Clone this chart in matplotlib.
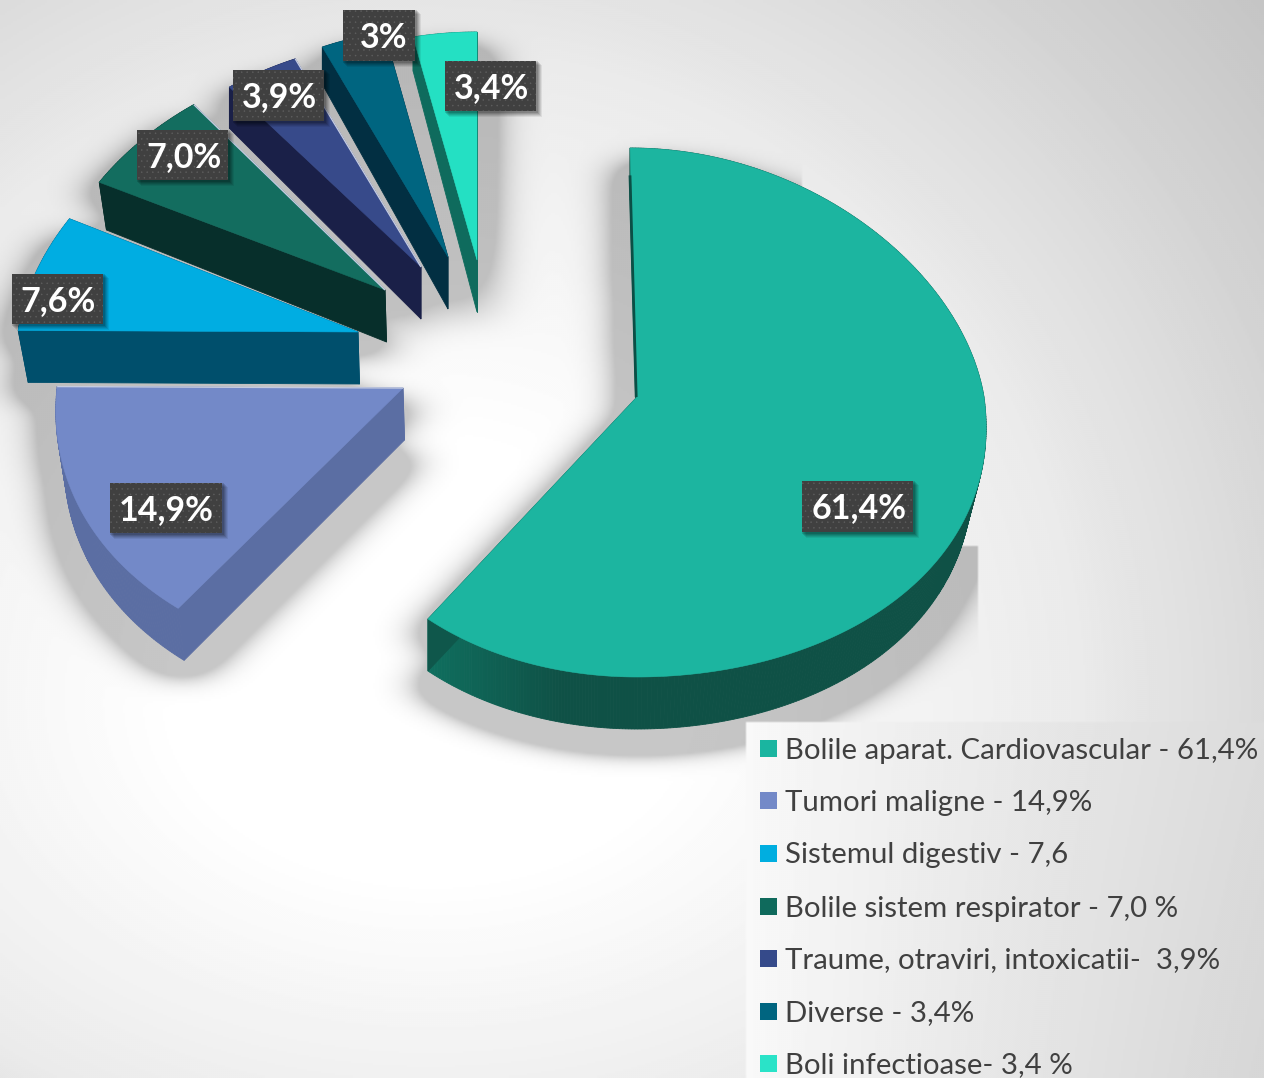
import numpy as np
import matplotlib
matplotlib.use("Agg")
import matplotlib.pyplot as plt
from matplotlib.patches import Polygon, Rectangle
from matplotlib.path import Path
from matplotlib.colors import to_rgb

# ---- data ----
values = [61.4, 14.9, 7.6, 7.0, 3.9, 3.4, 3.4]
pct_labels = ["61,4%", "14,9%", "7,6%", "7,0%", "3,9%", "3%", "3,4%"]
legend_labels = ["Bolile aparat. Cardiovascular - 61,4%", "Tumori maligne - 14,9%",
                 "Sistemul digestiv - 7,6", "Bolile sistem respirator - 7,0 %",
                 "Traume, otraviri, intoxicatii-  3,9%", "Diverse - 3,4%",
                 "Boli infectioase- 3,4 %"]
top_colors = ["#1cb5a0", "#7389c8", "#00ade2", "#136d5f", "#374a8a", "#006580", "#24e0c3"]
side_colors = ["#0f5146", "#5b6ea3", "#004f6c", "#072f2b", "#1a2048", "#022f42", "#0f6b5d"]
swatch_colors = ["#1ab5a0", "#7389c8", "#00aee0", "#0f6a5c", "#354a8a", "#006580", "#2ae3c8"]

# ---- layout (pixel space of the picture) ----
W, H = 1264, 1078
apex = [(637, 397), (403, 388), (358, 332), (385, 290), (421, 267), (448, 257), (477, 260)]
rx_right = [347, 336, 336, 336, 336, 336, 336]
rx_left = [315, 346, 340, 336, 336, 336, 336]
ry_up = [249, 235, 247, 235, 228, 230, 228]
ry_down = [280, 278, 278, 278, 278, 278, 278]
persp = [0.0004, 0.0003, 0.0004, 0.0004, 0.0004, 0.0004, 0.0004]
tilt = [0.028, 0, 0, 0, 0, 0, 0]
depth = 52
depth_far = [0, 0, 0.04, 0.04, 0.06, 0.07, 0.08]
shrink_left = [0.0, 0.02, 0.025, 0.02, 0.0, 0.0, 0.0]
shrink_right = [0.04, 0, 0, 0, 0, 0, 0]
highlight = [False, True, False, True, True, False, False]
boxes = [(802, 481, 913, 532), (110, 483, 222, 533), (12, 274, 103, 324), (137, 130, 228, 180),
         (233, 70, 324, 121), (343, 10, 415, 61), (445, 61, 536, 111)]
text_dx = [2, 0, 0, 1, 1, 5, 1]
legend_y = [748, 800, 853, 906, 958, 1011, 1063]
shadow_clip_x = 976
shadow_clip_upper = (800, 545)
plt.rcParams["font.family"] = ["Lato", "DejaVu Sans"]
plt.rcParams["hatch.linewidth"] = 0.3


def outline(i, a0, a1):
    th = np.radians(np.linspace(a0, a1, max(int(a1 - a0) * 2, 8)))
    u, v = np.sin(th), -np.cos(th)
    y = v * np.where(v > 0, ry_down[i], ry_up[i])
    x = u * np.where(u > 0, rx_right[i], rx_left[i]) * (1 + persp[i] * y)
    x = x + np.where(y < 0, tilt[i] * y, 0)
    pts = np.column_stack([apex[i][0] + x, apex[i][1] + y])
    return np.vstack([[apex[i]], pts])


def lower(i, pts):
    pts = np.atleast_2d(pts)
    dx = pts[:, 0] - apex[i][0]
    dy = pts[:, 1] - apex[i][1]
    k = np.where(dx < 0, shrink_left[i], shrink_right[i])
    x = pts[:, 0] - k * dx + (1.5 if shrink_left[i] else 0)
    y = pts[:, 1] + depth + depth_far[i] * np.minimum(dy, 0)
    return np.column_stack([x, y])


def gauss(sig):
    k = np.exp(-0.5 * (np.arange(-3 * sig, 3 * sig + 1) / sig) ** 2)
    return k / k.sum()


fractions = np.array(values) / np.sum(values)
edges = np.concatenate([[0], np.cumsum(fractions)]) * 360
slices = [outline(i, edges[i], edges[i + 1]) for i in range(len(values))]

# ---- background ----
yy, xx = np.mgrid[0:H:2, 0:W:2]
dn = np.where(yy > 700, 700.0, 1000.0)
d = np.sqrt(((xx - 430) / 1000.0) ** 2 + ((yy - 700) / dn) ** 2)
bg = 1 - np.interp(d, [0.25, 0.45, 0.55, 0.65, 0.7, 0.82, 0.9, 1.09, 1.4],
                   [0, 0.04, 0.06, 0.08, 0.1, 0.14, 0.17, 0.23, 0.3])
# soft grey shadow of the slices: wide sideways, short downwards
mask = np.zeros_like(bg)
grid = np.column_stack([xx.ravel(), yy.ravel()])
for i, s in enumerate(slices):
    mask = np.maximum(mask, Path(s).contains_points(grid).reshape(bg.shape).astype(float))
    mask = np.maximum(mask, Path(lower(i, s)).contains_points(grid).reshape(bg.shape).astype(float))
mask = np.roll(mask, 8, axis=0)
ky, kx = gauss(6), gauss(12)
blur = np.apply_along_axis(lambda r: np.convolve(r, ky, mode="same"), 0, mask)
blur = np.apply_along_axis(lambda r: np.convolve(r, kx, mode="same"), 1, blur)
shade = np.clip(blur * 5.0, 0, 1) * 0.22
shade = np.where(xx > shadow_clip_x, 0, shade)
shade = np.where((xx > shadow_clip_upper[0]) & (yy < shadow_clip_upper[1]), 0, shade)
img = bg * (1 - shade)
# legend panel
lx = xx >= 746
ly = yy >= 721
t = np.clip((xx - 746) / (W - 746.0), 0, 1)
panel = 0.975 - 0.115 * t ** 0.9 - 0.02 * (yy - 721) / (H - 721.0) * t
img = np.where(lx & ly, panel, img)

fig = plt.figure(figsize=(W / 100, H / 100), dpi=100)
ax = fig.add_axes([0, 0, 1, 1])
ax.set_xlim(0, W)
ax.set_ylim(H, 0)
ax.axis("off")
ax.imshow(img, cmap="gray", vmin=0, vmax=1, extent=(0, W, H, 0), aspect="auto", zorder=0, interpolation="bilinear")

# ---- slices, back to front ----
order = [6, 5, 4, 3, 2, 1, 0]
z = 2
for i in order:
    s = slices[i]
    closed = np.vstack([s, s[:1]])
    low = lower(i, closed)
    side = np.array(to_rgb(side_colors[i]))
    for j in range(len(closed) - 1):
        p, q = closed[j], closed[j + 1]
        col = side
        if i == 0:
            f = np.clip((560 - 0.5 * (p[0] + q[0])) / 130, 0, 1)
            col = side * (1 - f) + np.array(to_rgb("#0f6e5e")) * f
        quad = [p, q, low[j + 1], low[j]]
        ax.add_patch(Polygon(quad, closed=True, fc=col, ec=col, lw=0.6, zorder=z))
    z += 1
    ax.add_patch(Polygon(s, closed=True, fc=top_colors[i], ec=top_colors[i], lw=0.4, zorder=z))
    if highlight[i]:
        ax.plot([s[0, 0], s[-1, 0]], [s[0, 1], s[-1, 1]], color="#c4cbe0", lw=1.0, zorder=z, solid_capstyle="butt")
    if i == 0:
        e = s[0] + 0.89 * (s[1] - s[0])
        ax.plot([s[0, 0] - 0.8, e[0] - 0.8], [s[0, 1], e[1]], color="#0b4f46", lw=2.0, zorder=z, solid_capstyle="butt")
    z += 1

# ---- percent labels ----
for (x0, y0, x1, y1), lab, tdx in zip(boxes, pct_labels, text_dx):
    for o, a in ((6, 0.07), (5, 0.09), (4, 0.10), (3, 0.12), (2, 0.14)):
        ax.add_patch(Rectangle((x0 + o - 2, y0 + o - 2), x1 - x0 + 2, y1 - y0 + 2, fc="black", ec="none", alpha=a, zorder=30))
    ax.add_patch(Rectangle((x0, y0), x1 - x0, y1 - y0, fc="#404040", ec="#5f5f5f", lw=0, hatch="...", zorder=31))
    ax.text(0.5 * (x0 + x1) + tdx, 0.5 * (y0 + y1) + 2, lab, color="white", fontsize=24.5, fontweight="bold",
            ha="center", va="center", zorder=32)

# ---- legend ----
for y, lab, c in zip(legend_y, legend_labels, swatch_colors):
    ax.add_patch(Rectangle((760, y - 8.5), 17, 17, fc=c, ec="none", zorder=40))
    ax.text(785, y, lab, color="#404040", fontsize=21.2, ha="left", va="center_baseline", zorder=40)

fig.savefig("out.png", dpi=100)
